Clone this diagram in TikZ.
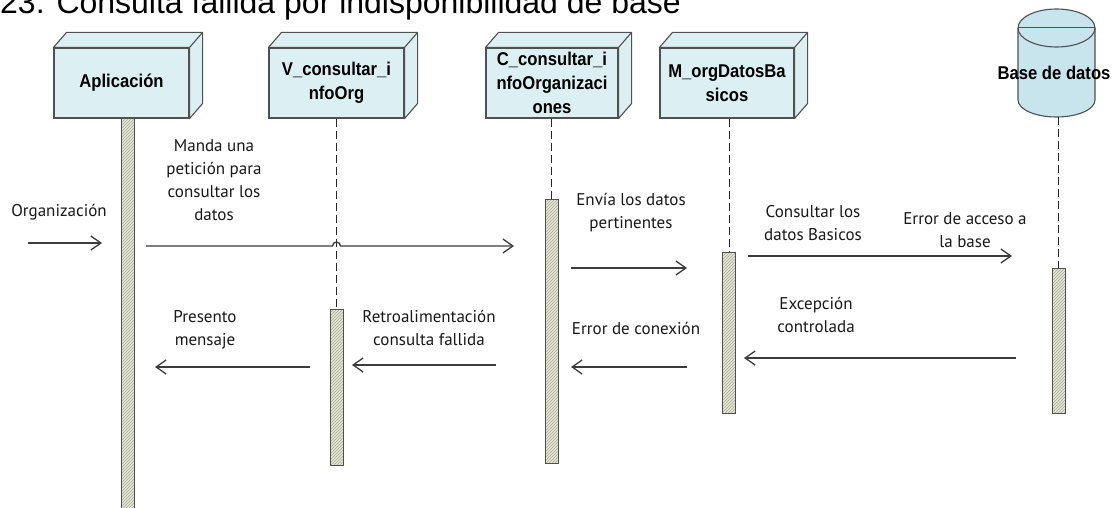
\documentclass[tikz,border=0pt]{standalone}
\usepackage{fontspec}
\setmainfont{Liberation Sans}
\newfontfamily\hdrfont[FakeStretch=0.9]{Liberation Sans}
\newfontfamily\lblfont{PT Sans}
\usetikzlibrary{arrows.meta,patterns}
\definecolor{boxc}{RGB}{220,239,243}
\definecolor{cylc}{RGB}{200,228,236}
\definecolor{edgec}{RGB}{80,80,80}
\definecolor{barc}{RGB}{232,232,215}
\definecolor{hatchc}{RGB}{165,165,145}
\definecolor{arrowc}{RGB}{60,60,60}
\newcommand\cubefaces[1]{%
  \filldraw[face] (#1.north west) -- ++(13,-15) -- ([shift={(13,-15)}]#1.north east)
    -- ([shift={(13,-15)}]#1.south east) -- (#1.south east) -- (#1.north east) -- cycle;
  \draw[face] (#1.north east) -- ++(13,-15);}
\tikzset{
  objbox/.style={draw=edgec, line width=1.1pt, fill=boxc, minimum width=135pt,
    minimum height=70pt, inner sep=0pt, align=center,
    font=\hdrfont\bfseries\fontsize{18.5}{24}\selectfont},
  face/.style={draw=edgec, line width=1.1pt, fill=boxc, line join=round},
  actbar/.style={draw=edgec, line width=1pt, preaction={fill=barc},
    pattern=north east lines, pattern color=hatchc, minimum width=13pt,
    inner sep=0pt, anchor=north},
  lifeline/.style={draw=black!85, line width=0.9pt, dash pattern=on 8pt off 4pt},
  msg/.style={draw=arrowc, line width=1.3pt,
    -{Straight Barb[length=10pt,width=14pt,line width=1.3pt]}},
  lbl/.style={align=center, inner sep=0pt, text=black!90,
    font=\lblfont\fontsize{17}{23}\selectfont},
}
\begin{document}
\begin{tikzpicture}[x=1pt,y=-1pt]
\clip (0,0) rectangle (1116,508);
\useasboundingbox (0,0) rectangle (1116,508);
\fill[white] (0,0) rectangle (1116,508);

% title (cut by the top edge)
\node[anchor=base west, inner sep=0pt, font=\fontsize{32}{36}\selectfont] (title) at (0,14)
  {23. Consulta fallida por indisponibilidad de base};

% objects
\node[objbox] (A) at (121.5,83) {Aplicación};
\cubefaces{A}
\node[objbox] (V) at (336.5,83) {V\_consultar\_i\\nfoOrg};
\cubefaces{V}
\node[objbox, minimum width=132pt] (C) at (552,83) {C\_consultar\_i\\nfoOrganizaci\\ones};
\cubefaces{C}
\node[objbox, minimum width=134pt] (M) at (727,83) {M\_orgDatosBa\\sicos};
\cubefaces{M}

% database cylinder
\filldraw[draw=edgec, line width=1.1pt, fill=cylc]
  (1018,28) -- (1018,100) arc[start angle=180, end angle=0, x radius=38.5, y radius=17]
  -- (1095,28) arc[start angle=360, end angle=180, x radius=38.5, y radius=19] -- cycle;
\draw[draw=edgec, line width=1.1pt] (1018,28) arc[start angle=180, end angle=0, x radius=38.5, y radius=19];
\draw[draw=edgec, line width=1pt] (1018,28) -- (1095,28);
\node[inner sep=0pt, font=\hdrfont\bfseries\fontsize{18.5}{24}\selectfont] (BDt) at (1054,73) {Base de datos};
\coordinate (BD) at (1058.5,117);

% activation bars
\node[actbar, minimum height=395pt] (Ab) at (127.5,118) {};
\node[actbar, minimum height=156pt] (Vb) at (336.5,309) {};
\node[actbar, minimum height=264pt] (Cb) at (551.5,199) {};
\node[actbar, minimum height=161pt] (Mb) at (729,252) {};
\node[actbar, minimum height=145pt] (Bb) at (1058.5,268) {};

% lifelines
\draw[lifeline] (V.south) -- (Vb.north);
\draw[lifeline] (C.south -| Cb.north) -- (Cb.north);
\draw[lifeline] (M.south -| Mb.north) -- (Mb.north);
\draw[lifeline] (BD) -- (Bb.north);

% message end points
\coordinate (o1) at (28,243);   \coordinate (o2) at (102,243);
\coordinate (m1) at (146,246);  \coordinate (hop) at (332.5,246); \coordinate (m2) at (514,246);
\coordinate (e1) at (571,268);  \coordinate (e2) at (687,268);
\coordinate (c1) at (748,256);  \coordinate (c2) at (1012,256);
\coordinate (x1) at (1016,358); \coordinate (x2) at (744,358);
\coordinate (k1) at (687,367);  \coordinate (k2) at (571,367);
\coordinate (r1) at (496,365);  \coordinate (r2) at (352,365);
\coordinate (p1) at (310,367);  \coordinate (p2) at (155,367);

% messages
\draw[msg] (o1) -- (o2);
\draw[msg] (m1) -- (hop) arc[start angle=180, end angle=360, radius=4] -- (m2);
\draw[msg] (e1) -- (e2);
\draw[msg] (c1) -- (c2);
\draw[msg] (x1) -- (x2);
\draw[msg] (k1) -- (k2);
\draw[msg] (r1) -- (r2);
\draw[msg] (p1) -- (p2);

% labels
\node[lbl] (lo) at (59,212) {Organización};
\node[lbl] (lm) at (214,180) {Manda una\\petición para\\consultar los\\datos};
\node[lbl] (le) at (631,213) {Envía los datos\\pertinentes};
\node[lbl] (lc) at (813,223) {Consultar los\\datos Basicos};
\node[lbl] (la) at (965,230) {Error de acceso a\\la base};
\node[lbl] (lx) at (816,315) {Excepción\\controlada};
\node[lbl] (lk) at (636,328) {Error de conexión};
\node[lbl] (lr) at (429,328) {Retroalimentación\\consulta fallida};
\node[lbl] (lp) at (205,330) {Presento\\mensaje};
\end{tikzpicture}
\end{document}
